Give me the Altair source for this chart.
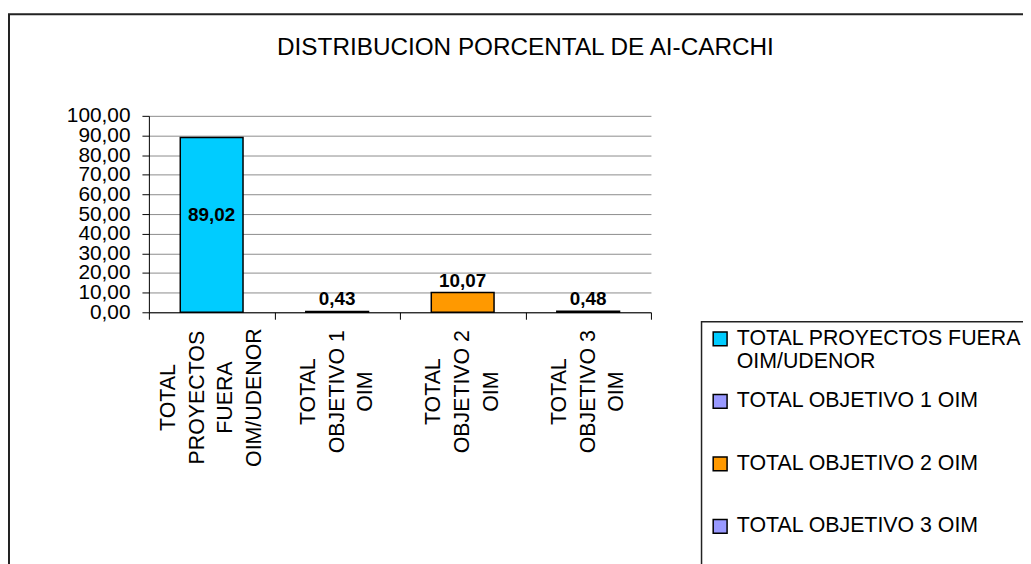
import json
import altair as alt
import pandas as pd

# ---------------- data ----------------
categories = [
    "TOTAL PROYECTOS FUERA OIM/UDENOR",
    "TOTAL OBJETIVO 1 OIM",
    "TOTAL OBJETIVO 2 OIM",
    "TOTAL OBJETIVO 3 OIM",
]
values = [89.02, 0.43, 10.07, 0.48]
colors = ["#00CCFF", "#9999FF", "#FF9900", "#9999FF"]
axis_label_lines = [
    ["TOTAL", "PROYECTOS", "FUERA", "OIM/UDENOR"],
    ["TOTAL", "OBJETIVO 1", "OIM"],
    ["TOTAL", "OBJETIVO 2", "OIM"],
    ["TOTAL", "OBJETIVO 3", "OIM"],
]
legend_label_lines = [
    ["TOTAL PROYECTOS FUERA", "OIM/UDENOR"],
    ["TOTAL OBJETIVO 1 OIM"],
    ["TOTAL OBJETIVO 2 OIM"],
    ["TOTAL OBJETIVO 3 OIM"],
]
y_ticks = [0, 10, 20, 30, 40, 50, 60, 70, 80, 90, 100]
title_text = "DISTRIBUCION PORCENTAL DE AI-CARCHI"

df = pd.DataFrame({"categoria": categories, "valor": values})


def lookup_expr(keys, vals, default):
    expr = default
    for k, v in reversed(list(zip(keys, vals))):
        expr = f"datum.value == {json.dumps(k)} ? {json.dumps(v)} : ({expr})"
    return expr


LH = 29
axis_expr = lookup_expr(categories, axis_label_lines, "datum.label")
legend_vals = [l + [""] * (2 - len(l)) for l in legend_label_lines]
legend_expr = lookup_expr(categories, legend_vals, "datum.label")
num_fmt = "replace(format(datum.valor, '.2f'), '.', ',')"
first_cat_test = f"datum.value == {json.dumps(categories[0])}"

FONT = "Liberation Sans"

x_axis = alt.Axis(
    title=None,
    labelExpr=axis_expr,
    labelAngle=270,
    labelAlign="center",
    labelBaseline="middle",
    labelFontSize=21.5,
    labelLineHeight=LH,
    labelPadding={"condition": {"test": first_cat_test, "value": 78.5}, "value": 72.5},
    labelOffset={"condition": {"test": first_cat_test, "value": -1.5 * LH}, "value": -1.0 * LH},
    labelLimit=400,
    labelOverlap=False,
    labelColor="black",
    tickSize=7,
    tickBand="extent",
    tickColor="black",
    domainColor="black",
    grid=False,
)
x_scale = alt.Scale(paddingInner=0, paddingOuter=0)

y_axis = alt.Axis(
    title=None,
    values=y_ticks,
    labelExpr="replace(format(datum.value, '.2f'), '.', ',')",
    labelFontSize=21,
    labelPadding=12,
    labelColor="black",
    labelOverlap=False,
    labelFlush=False,
    tickSize=7,
    tickColor="black",
    domainColor="black",
    grid=True,
    gridColor="#8c8c8c",
    gridWidth=1,
)
y_scale = alt.Scale(domain=[0, 100], nice=False)


def x_enc():
    return alt.X("categoria:N", sort=categories, scale=x_scale, axis=x_axis)


def y_enc(field):
    return alt.Y(field, scale=y_scale, axis=y_axis)


bars = alt.Chart(df).mark_bar(
    width=alt.RelativeBandSize(0.5), stroke="black", strokeWidth=1.5
).encode(
    x=x_enc(),
    y=y_enc("valor:Q"),
    color=alt.Color(
        "categoria:N",
        sort=categories,
        scale=alt.Scale(domain=categories, range=colors),
        legend=alt.Legend(
            orient="none",
            legendX=565,
            legendY=214,
            title=None,
            symbolType="square",
            symbolSize=196,
            symbolStrokeColor="black",
            symbolStrokeWidth=1.5,
            symbolOpacity=1,
            labelFontSize=21.5,
            labelColor="black",
            labelOffset=6,
            labelExpr=legend_expr,
            labelLimit=600,
            labelBaseline="middle",
            rowPadding=17,
            padding=0,
        ),
    ),
)

labels_in = alt.Chart(df).transform_filter("datum.valor > 50").transform_calculate(
    txt=num_fmt, mitad="datum.valor / 2"
).mark_text(fontWeight="bold", fontSize=19, baseline="middle", dy=-9.5, color="black").encode(
    x=x_enc(), y=y_enc("mitad:Q"), text="txt:N"
)

labels_out = alt.Chart(df).transform_filter("datum.valor <= 50").transform_calculate(
    txt=num_fmt
).mark_text(fontWeight="bold", fontSize=19, baseline="alphabetic", dy=-6, color="black").encode(
    x=x_enc(), y=y_enc("valor:Q"), text="txt:N"
)

one = pd.DataFrame({"k": [0]})
frame = alt.Chart(one).mark_rect(fillOpacity=0, stroke="#222222", strokeWidth=2).encode(
    x=alt.value(-141), x2=alt.value(1000), y=alt.value(-102.5), y2=alt.value(600)
)
legend_box = alt.Chart(one).mark_rect(fillOpacity=0, stroke="#222222", strokeWidth=1.5).encode(
    x=alt.value(557), x2=alt.value(1000), y=alt.value(207.5), y2=alt.value(600)
)

chart = alt.layer(frame, bars, labels_in, labels_out, legend_box).properties(
    width=506,
    height=198,
    title=alt.TitleParams(
        title_text,
        fontSize=24.5,
        fontWeight="normal",
        color="black",
        anchor="middle",
        dx=126.5,
        dy=48,
        offset=0,
    ),
    autosize=alt.AutoSizeParams(type="none"),
    padding={"left": 142, "top": 106.5, "right": 375, "bottom": 251.5},
    background="white",
).configure(font=FONT).configure_view(stroke="transparent")

chart.save("out.html", embed_options={"renderer": "svg", "actions": False})
